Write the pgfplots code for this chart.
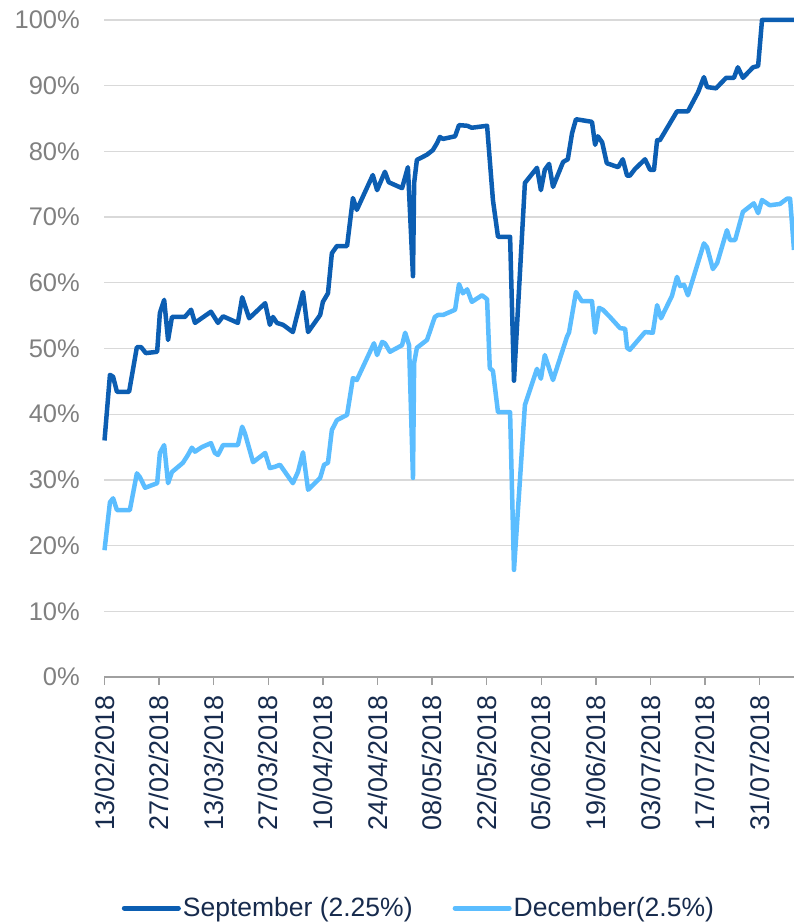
\documentclass[border=0pt]{standalone}
\usepackage{fontspec}
\setmainfont{Liberation Sans}
\usepackage{pgfplots}
\pgfplotsset{compat=1.18}

\definecolor{sepblue}{RGB}{12,94,178}
\definecolor{decblue}{RGB}{91,189,255}
\definecolor{labgray}{RGB}{128,128,128}
\definecolor{navy}{RGB}{23,43,77}
\definecolor{gridgray}{RGB}{217,217,217}
\definecolor{axgray}{RGB}{160,160,160}

\begin{document}
\begin{tikzpicture}
\begin{axis}[
  name=ax,
  scale only axis,
  width=689.5pt, height=657pt,
  xmin=0, xmax=176.8,
  ymin=0, ymax=100,
  clip=false,
  axis x line*=bottom,
  axis y line*=left,
  x axis line style={color=axgray, line width=1.3pt},
  y axis line style={draw=none},
  tick align=outside,
  major tick length=8pt,
  xtick={0,14,...,168},
  xticklabels={13/02/2018,27/02/2018,13/03/2018,27/03/2018,10/04/2018,24/04/2018,
    08/05/2018,22/05/2018,05/06/2018,19/06/2018,03/07/2018,17/07/2018,31/07/2018},
  x tick style={color=axgray, line width=1.3pt},
  y tick style={draw=none},
  ytick={0,10,...,100},
  yticklabels={0\%,10\%,20\%,30\%,40\%,50\%,60\%,70\%,80\%,90\%,100\%},
  /pgf/number format/assume math mode=true,
  xticklabel style={rotate=90, anchor=east, font=\fontsize{27}{27}\selectfont,
    text=navy, inner xsep=10pt, inner ysep=0pt},
  yticklabel style={anchor=east, font=\fontsize{25.5}{25.5}\selectfont,
    text=labgray, inner xsep=16.5pt, inner ysep=0pt},
  ymajorgrids,
  grid style={color=gridgray, line width=1.3pt},
  legend columns=2,
  legend style={at={(0.456,-0.3516)}, anchor=center, draw=none, fill=none,
    font=\fontsize{26.5}{26.5}\selectfont, text=navy,
    nodes={inner xsep=2pt, inner ysep=0pt},
    /tikz/every even column/.append style={column sep=38pt}},
  legend image code/.code={\draw[#1, line width=5pt, line cap=round] (0pt,0pt) -- (54pt,0pt);},
]
\addplot[sepblue, line width=4.5pt, line join=round] coordinates {
(0,36.0)(1.4,46.0)(2.2,45.7)(3.2,43.4)(6.3,43.4)(8.3,50.2)(9.4,50.2)(10.6,49.3)
(13.5,49.5)(14.2,55.4)(15.3,57.4)(16.3,51.3)(17.3,54.8)(20.6,54.8)(22.2,55.9)
(23.2,53.9)(27.3,55.6)(29.1,53.9)(30.4,54.9)(34.2,53.9)(35.3,57.8)(37.1,54.6)
(41.2,56.9)(42.4,53.6)(43.2,54.8)(44.2,53.9)(45.8,53.6)(48.3,52.5)(50.9,58.6)
(52.2,52.5)(55.3,55.1)(56.0,57.1)(57.3,58.4)(58.3,64.5)(59.6,65.6)(62.2,65.6)
(63.7,72.9)(64.7,71.1)(68.8,76.4)(69.9,74.1)(71.9,76.9)(72.9,75.3)(76.3,74.4)
(77.8,77.6)(79.1,61.0)(79.4,75.2)(80.1,78.7)(82.7,79.5)(84.2,80.2)(85.3,81.3)
(86.0,82.2)(86.8,81.9)(89.9,82.3)(90.9,84.0)(93.0,83.9)(94.2,83.6)(98.1,83.9)
(99.6,72.6)(100.9,67.0)(104.0,67.0)(105.0,45.1)(107.8,75.2)(110.9,77.5)
(111.9,74.1)(112.9,77.2)(114.0,78.1)(115.0,74.6)(117.6,78.4)(118.8,78.8)
(119.9,82.8)(120.9,84.9)(125.0,84.5)(125.8,81.0)(126.5,82.3)(127.6,81.4)
(128.8,78.2)(131.7,77.6)(132.9,78.8)(134.0,76.3)(134.7,76.3)(136.0,77.3)
(138.6,78.8)(139.9,77.2)(140.9,77.2)(141.7,81.7)(142.4,81.7)(145.0,84.3)
(146.8,86.1)(149.6,86.1)(152.2,89.0)(153.7,91.3)(154.5,89.8)(156.8,89.6)
(159.4,91.2)(161.4,91.2)(162.4,92.8)(163.7,91.2)(166.3,92.8)(167.6,93.0)
(168.6,100)(176.8,100)};
\addlegendentry{September (2.25\%)}
\addplot[decblue, line width=4.5pt, line join=round] coordinates {
(0,19.3)(1.4,26.6)(2.2,27.2)(3.2,25.4)(6.5,25.4)(8.3,31.0)(9.1,30.4)(10.4,28.8)
(13.5,29.5)(14.2,34.1)(15.3,35.3)(16.3,29.5)(17.3,31.2)(20.1,32.6)(21.4,33.8)
(22.4,34.9)(23.2,34.3)(25.0,35.0)(27.3,35.6)(28.3,34.1)(29.1,33.8)(30.4,35.3)
(34.2,35.3)(35.3,38.1)(36.0,37.1)(38.1,32.7)(41.2,34.1)(42.4,31.8)(43.7,32.0)
(45.0,32.3)(48.3,29.5)(49.6,31.2)(50.9,34.2)(52.2,28.5)(55.3,30.3)(56.3,32.3)
(57.3,32.6)(58.3,37.6)(59.6,39.1)(62.2,39.9)(63.7,45.5)(64.7,45.2)(69.1,50.8)
(69.9,49.0)(71.2,51.0)(71.9,50.8)(73.2,49.5)(76.3,50.5)(77.1,52.4)(78.1,50.5)
(79.1,30.3)(79.4,47.8)(80.1,50.1)(82.7,51.3)(84.7,54.8)(85.5,55.1)(86.8,55.1)
(89.9,55.9)(90.9,59.8)(91.9,58.4)(93.0,59.0)(94.2,57.1)(96.8,58.1)(98.1,57.5)
(98.8,47.0)(99.6,46.6)(100.9,40.3)(104.0,40.3)(105.0,16.3)(107.8,41.4)
(110.9,46.9)(111.9,45.4)(112.9,49.0)(115.0,45.2)(118.6,51.8)(119.1,52.4)
(120.9,58.6)(122.4,57.2)(125.0,57.2)(125.8,52.4)(126.8,56.2)(127.8,55.9)
(129.6,54.8)(132.2,53.1)(133.5,53.0)(134.0,50.1)(134.7,49.8)(138.6,52.5)
(140.6,52.4)(141.7,56.6)(142.7,54.6)(145.5,58.0)(146.8,60.9)(147.6,59.5)
(148.6,59.7)(149.6,58.1)(153.7,66.0)(154.5,65.4)(156.0,62.1)(157.1,63.0)
(159.6,68.0)(160.4,66.5)(161.7,66.5)(163.7,70.8)(166.5,72.1)(167.6,70.6)
(168.6,72.6)(170.6,71.8)(173.2,72.0)(175.0,72.8)(175.8,72.8)(176.8,65.0)};
\addlegendentry{December(2.5\%)}
\end{axis}
\pgfresetboundingbox
\path[use as bounding box] ([xshift=-104.5pt,yshift=-247pt]ax.south west)
  rectangle ([yshift=20pt]ax.north east);
\end{tikzpicture}
\end{document}
